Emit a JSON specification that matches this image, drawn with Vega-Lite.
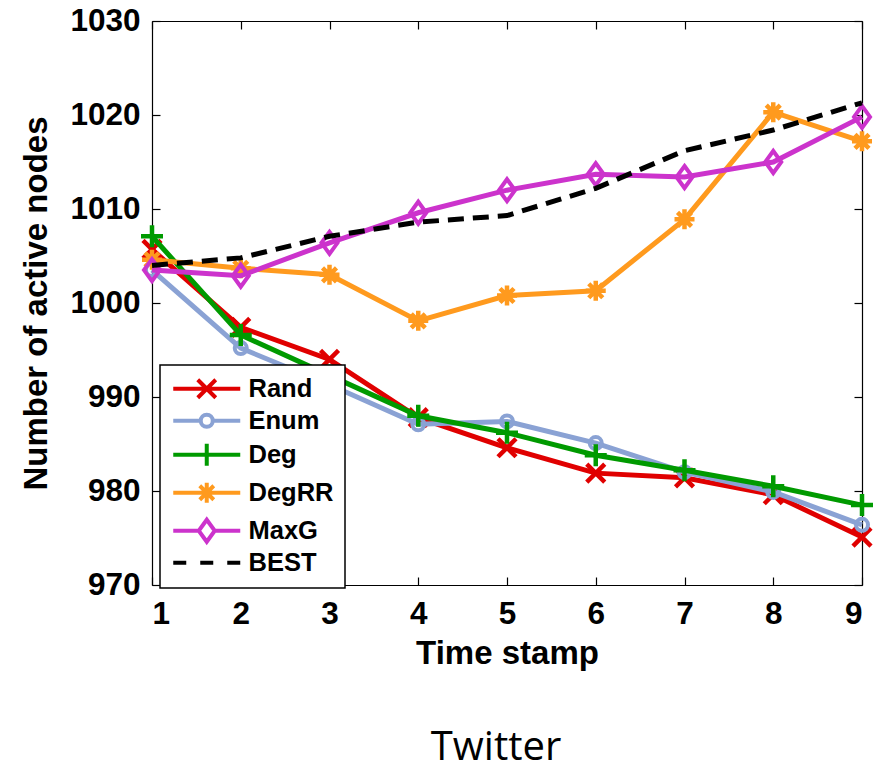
{
  "$schema": "https://vega.github.io/schema/vega-lite/v6.json",
  "width": 710,
  "height": 564,
  "autosize": {"type": "none"},
  "padding": {"left": 152, "top": 21, "right": 13, "bottom": 185},
  "background": "white",
  "config": {
    "view": {"stroke": null},
    "font": "Liberation Sans",
    "axis": {
      "domainColor": "black", "domainWidth": 1.2,
      "tickColor": "black", "tickWidth": 1.2, "tickSize": -8,
      "labelFont": "Liberation Sans", "labelFontSize": 31.5, "labelFontWeight": "bold", "labelColor": "black",
      "titleFont": "Liberation Sans", "titleFontSize": 33, "titleFontWeight": "bold", "titleColor": "black",
      "grid": false
    },
    "legend": {
      "orient": "none", "legendX": 8, "legendY": 344,
      "padding": 11, "strokeColor": "black", "strokeWidth": 1.5, "fillColor": "white",
      "labelFont": "Liberation Sans", "labelFontSize": 25.5, "labelFontWeight": "bold", "labelColor": "black",
      "symbolOffset": 23, "labelOffset": 29, "rowPadding": 0,
      "symbolSize": 400, "symbolStrokeWidth": 4, "symbolOpacity": 1
    }
  },
  "title": {"text": "Twitter", "orient": "bottom", "font": "Open Sans", "fontSize": 40, "fontWeight": "normal", "color": "black", "offset": 57, "anchor": "middle", "dx": -11},
  "data": {"values": [
    {"series": "Rand", "t": 1, "v": 1005.7}, {"series": "Rand", "t": 2, "v": 997.4}, {"series": "Rand", "t": 3, "v": 994.0},
    {"series": "Rand", "t": 4, "v": 987.8}, {"series": "Rand", "t": 5, "v": 984.6}, {"series": "Rand", "t": 6, "v": 981.9},
    {"series": "Rand", "t": 7, "v": 981.4}, {"series": "Rand", "t": 8, "v": 979.6}, {"series": "Rand", "t": 9, "v": 975.1},
    {"series": "Enum", "t": 1, "v": 1003.5}, {"series": "Enum", "t": 2, "v": 995.2}, {"series": "Enum", "t": 3, "v": 991.3},
    {"series": "Enum", "t": 4, "v": 987.1}, {"series": "Enum", "t": 5, "v": 987.4}, {"series": "Enum", "t": 6, "v": 985.1},
    {"series": "Enum", "t": 7, "v": 982.0}, {"series": "Enum", "t": 8, "v": 979.9}, {"series": "Enum", "t": 9, "v": 976.4},
    {"series": "Deg", "t": 1, "v": 1007.1}, {"series": "Deg", "t": 2, "v": 996.6}, {"series": "Deg", "t": 3, "v": 992.3},
    {"series": "Deg", "t": 4, "v": 988.0}, {"series": "Deg", "t": 5, "v": 986.2}, {"series": "Deg", "t": 6, "v": 983.8},
    {"series": "Deg", "t": 7, "v": 982.2}, {"series": "Deg", "t": 8, "v": 980.5}, {"series": "Deg", "t": 9, "v": 978.5},
    {"series": "DegRR", "t": 1, "v": 1004.6}, {"series": "DegRR", "t": 2, "v": 1003.7}, {"series": "DegRR", "t": 3, "v": 1003.0},
    {"series": "DegRR", "t": 4, "v": 998.1}, {"series": "DegRR", "t": 5, "v": 1000.8}, {"series": "DegRR", "t": 6, "v": 1001.3},
    {"series": "DegRR", "t": 7, "v": 1008.9}, {"series": "DegRR", "t": 8, "v": 1020.3}, {"series": "DegRR", "t": 9, "v": 1017.2},
    {"series": "MaxG", "t": 1, "v": 1003.5}, {"series": "MaxG", "t": 2, "v": 1002.9}, {"series": "MaxG", "t": 3, "v": 1006.4},
    {"series": "MaxG", "t": 4, "v": 1009.6}, {"series": "MaxG", "t": 5, "v": 1012.0}, {"series": "MaxG", "t": 6, "v": 1013.7},
    {"series": "MaxG", "t": 7, "v": 1013.4}, {"series": "MaxG", "t": 8, "v": 1015.0}, {"series": "MaxG", "t": 9, "v": 1019.8},
    {"series": "BEST", "t": 1, "v": 1004.0}, {"series": "BEST", "t": 2, "v": 1004.8}, {"series": "BEST", "t": 3, "v": 1007.1},
    {"series": "BEST", "t": 4, "v": 1008.6}, {"series": "BEST", "t": 5, "v": 1009.3}, {"series": "BEST", "t": 6, "v": 1012.2},
    {"series": "BEST", "t": 7, "v": 1016.2}, {"series": "BEST", "t": 8, "v": 1018.4}, {"series": "BEST", "t": 9, "v": 1021.3}
  ]},
  "layer": [
    {
      "encoding": {
        "x": {"field": "t", "type": "quantitative",
          "scale": {"domain": [1, 9], "nice": false, "zero": false},
          "axis": {"values": [1, 2, 3, 4, 5, 6, 7, 8, 9], "format": "d", "title": "Time stamp", "labelPadding": 21, "titlePadding": 8}},
        "y": {"field": "v", "type": "quantitative",
          "scale": {"domain": [970, 1030], "nice": false, "zero": false},
          "axis": {"values": [970, 980, 990, 1000, 1010, 1020, 1030], "format": "d", "title": "Number of active nodes", "labelPadding": 20, "titlePadding": 16}}
      },
      "layer": [
        {"transform": [{"filter": "datum.series === 'Rand'"}],
         "mark": {"type": "line", "color": "#e00000", "strokeWidth": 5,
           "point": {"shape": "M-0.9,-0.9L0.9,0.9M-0.9,0.9L0.9,-0.9", "filled": false, "size": 400, "strokeWidth": 4.5, "color": "#e00000", "opacity": 1}}},
        {"transform": [{"filter": "datum.series === 'Enum'"}],
         "mark": {"type": "line", "color": "#8aa2d4", "strokeWidth": 5,
           "point": {"shape": "M0.6,0A0.6,0.6 0 1,1 -0.6,0A0.6,0.6 0 1,1 0.6,0Z", "filled": false, "size": 400, "strokeWidth": 4, "color": "#8aa2d4", "opacity": 1}}},
        {"transform": [{"filter": "datum.series === 'Deg'"}],
         "mark": {"type": "line", "color": "#009a00", "strokeWidth": 5,
           "point": {"shape": "M0,-1.1V1.1M-1.1,0H1.1", "filled": false, "size": 400, "strokeWidth": 4.5, "color": "#009a00", "opacity": 1}}},
        {"transform": [{"filter": "datum.series === 'DegRR'"}],
         "mark": {"type": "line", "color": "#ff9a1e", "strokeWidth": 5,
           "point": {"shape": "M0,-1V1M-1,0H1M-0.7,-0.7L0.7,0.7M-0.7,0.7L0.7,-0.7", "filled": false, "size": 400, "strokeWidth": 4.5, "color": "#ff9a1e", "opacity": 1}}},
        {"transform": [{"filter": "datum.series === 'MaxG'"}],
         "mark": {"type": "line", "color": "#cc33cc", "strokeWidth": 5,
           "point": {"shape": "M0,-1.1L0.8,0L0,1.1L-0.8,0Z", "filled": false, "size": 400, "strokeWidth": 4, "color": "#cc33cc", "opacity": 1}}},
        {"transform": [{"filter": "datum.series === 'BEST'"}],
         "mark": {"type": "line", "color": "black", "strokeWidth": 5, "strokeDash": [16, 9]}}
      ]
    },
    {
      "transform": [{"filter": "datum.series === 'none'"}],
      "mark": {"type": "point", "filled": false, "size": 400, "strokeWidth": 4, "opacity": 1},
      "encoding": {
        "x": {"field": "t", "type": "quantitative",
          "scale": {"domain": [1, 9], "nice": false, "zero": false},
          "axis": {"orient": "top", "values": [1, 2, 3, 4, 5, 6, 7, 8, 9], "labels": false, "title": null}},
        "y": {"field": "v", "type": "quantitative",
          "scale": {"domain": [970, 1030], "nice": false, "zero": false},
          "axis": {"orient": "right", "values": [970, 980, 990, 1000, 1010, 1020, 1030], "labels": false, "title": null}},
        "color": {"field": "series", "type": "nominal",
          "scale": {"domain": ["Rand", "Enum", "Deg", "DegRR", "MaxG", "BEST"],
                    "range": ["#e00000", "#8aa2d4", "#009a00", "#ff9a1e", "#cc33cc", "black"]},
          "legend": {"title": null}},
        "shape": {"field": "series", "type": "nominal",
          "scale": {"domain": ["Rand", "Enum", "Deg", "DegRR", "MaxG", "BEST"],
                    "range": [
                      "M-3.35,0H3.35M-0.9,-0.9L0.9,0.9M-0.9,0.9L0.9,-0.9",
                      "M-3.35,0H-0.6M0.6,0H3.35M0.6,0A0.6,0.6 0 1,1 -0.6,0A0.6,0.6 0 1,1 0.6,0Z",
                      "M-3.35,0H3.35M0,-1.1V1.1",
                      "M-3.35,0H3.35M0,-1V1M-0.7,-0.7L0.7,0.7M-0.7,0.7L0.7,-0.7",
                      "M-3.35,0H-0.8M0.8,0H3.35M0,-1.1L0.8,0L0,1.1L-0.8,0Z",
                      "M-3.35,0H-2.05M-0.65,0H0.65M2.05,0H3.35"
                    ]},
          "legend": {"title": null}}
      }
    }
  ],
  "resolve": {"scale": {"x": "independent", "y": "independent"}}
}
